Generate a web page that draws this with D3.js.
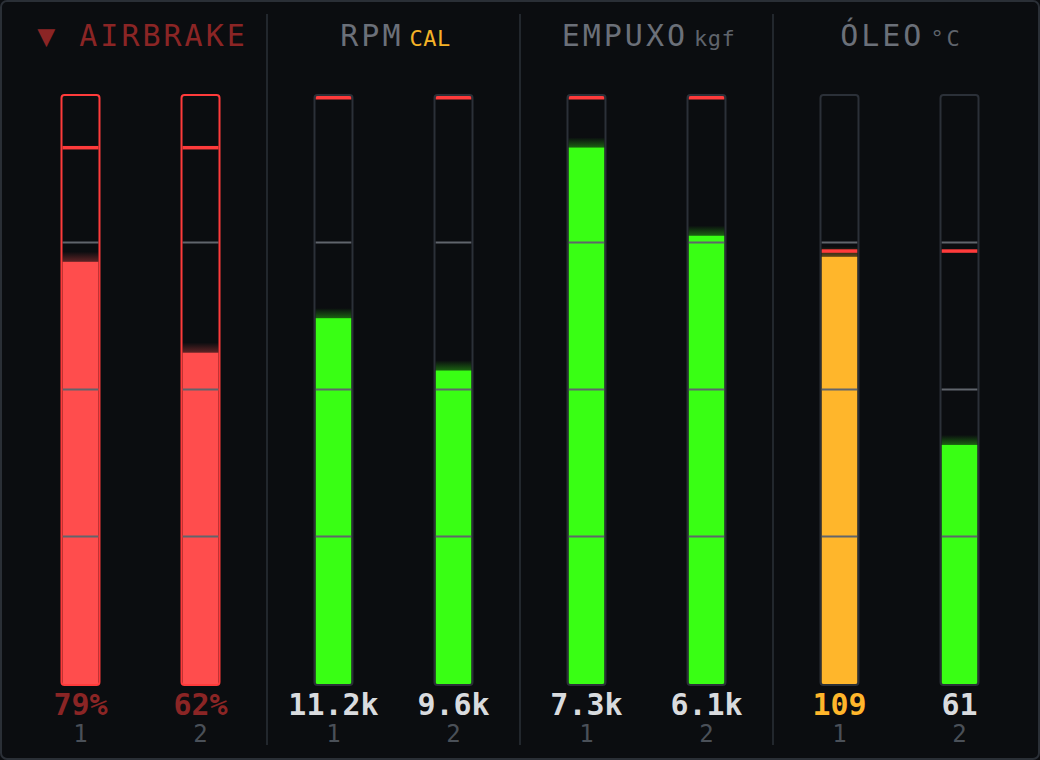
<!DOCTYPE html>
<html>
<head>
<meta charset="utf-8">
<script src="https://cdn.jsdelivr.net/npm/d3@7"></script>
<style>
  html, body { margin: 0; padding: 0; background: #0b0d10; }
  svg { display: block; }
</style>
</head>
<body>
<div id="chart"></div>
<script>
/* ── Data ── */
const groups   = ["AIRBRAKE", "RPM", "EMPUXO", "ÓLEO"];
const titles   = ["▼ AIRBRAKE", "RPM", "EMPUXO", "ÓLEO"];
const units    = ["", "CAL", "kgf", "°C"];
const maxima   = [110, 18000, 8000, 150];
const redlines = [100, 18000, 8000, 110];
const engines  = ["1", "2"];
const engine1  = [79, 11200, 7300, 109];
const engine2  = [62, 9600, 6100, 61];
const labels1  = ["79%", "11.2k", "7.3k", "109"];
const labels2  = ["62%", "9.6k", "6.1k", "61"];
const status1  = ["alert", "ok", "ok", "caution"];
const status2  = ["alert", "ok", "ok", "ok"];
const tickFracs = [0.25, 0.5, 0.75];

const W = 1040, H = 760;
const fillColor = { ok: "#39ff14", caution: "#ffb62b", alert: "#ff4d4d" };
const mono = "'DejaVu Sans Mono', 'Liberation Mono', monospace";

const svg = d3.select("#chart").append("svg")
  .attr("width", W).attr("height", H)
  .style("font-family", mono);

const defs = svg.append("defs");
Object.entries(fillColor).forEach(([k, c]) => {
  const g = defs.append("linearGradient").attr("id", "glow-" + k)
    .attr("x1", 0).attr("x2", 0).attr("y1", 0).attr("y2", 1);
  g.append("stop").attr("offset", "0%").attr("stop-color", c).attr("stop-opacity", 0);
  g.append("stop").attr("offset", "100%").attr("stop-color", c).attr("stop-opacity", 0.35);
});

/* ── Frame ── */
svg.append("rect")
  .attr("x", 1).attr("y", 1).attr("width", W - 2).attr("height", H - 2)
  .attr("rx", 6).attr("fill", "#0b0d10")
  .attr("stroke", "#2a2f36").attr("stroke-width", 2);

/* ── Scales ── */
const x = d3.scaleBand().domain(groups).range([14, 1026]).padding(0);
const xe = d3.scalePoint().domain(engines).range([0, x.bandwidth()]).padding(0.554);
const yTop = 96, yBot = 684;
const yScales = maxima.map(m => d3.scaleLinear().domain([0, m]).range([yBot, yTop]));

/* ── Dividers ── */
svg.selectAll("line.divider")
  .data(groups.slice(1))
  .enter().append("line")
  .attr("class", "divider")
  .attr("x1", d => x(d)).attr("x2", d => x(d))
  .attr("y1", 14).attr("y2", 745)
  .attr("stroke", "#22272d").attr("stroke-width", 2);

/* ── Panels ── */
groups.forEach((g, gi) => {
  const panel = svg.append("g").attr("transform", `translate(${x(g)},0)`);
  const cx0 = x.bandwidth() / 2;
  const y = yScales[gi];
  const isAir = gi === 0;

  /* header */
  const head = panel.append("text")
    .attr("x", cx0 + 2).attr("y", 46)
    .attr("text-anchor", "middle");
  head.append("tspan")
    .text(titles[gi])
    .attr("font-size", 30)
    .attr("letter-spacing", 3)
    .attr("fill", isAir ? "#8b2525" : "#6b7079");
  if (units[gi]) {
    head.append("tspan")
      .text(units[gi])
      .attr("dx", 6)
      .attr("font-size", 22)
      .attr("letter-spacing", units[gi] === "°C" ? 3 : 0.5)
      .attr("fill", units[gi] === "CAL" ? "#f5b227" : "#5f646c");
  }

  const vals = [engine1[gi], engine2[gi]];
  const labs = [labels1[gi], labels2[gi]];
  const stats = [status1[gi], status2[gi]];

  engines.forEach((e, ei) => {
    const cx = xe(e);
    const st = stats[ei];
    const v = vals[ei];
    const bar = panel.append("g");

    /* tube background */
    bar.append("rect")
      .attr("x", cx - 19).attr("y", yTop - 1)
      .attr("width", 38).attr("height", yBot - yTop + 2)
      .attr("rx", 3)
      .attr("fill", "#0b0d10");

    /* glow above fill */
    bar.append("rect")
      .attr("x", cx - 18).attr("y", y(v) - 10)
      .attr("width", 36).attr("height", 10)
      .attr("fill", `url(#glow-${st})`);

    /* fill */
    bar.append("rect")
      .attr("x", cx - 18).attr("y", y(v))
      .attr("width", 36).attr("height", yBot - y(v))
      .attr("fill", fillColor[st]);

    /* ticks */
    bar.selectAll("line.tick")
      .data(tickFracs)
      .enter().append("line")
      .attr("x1", cx - 18).attr("x2", cx + 18)
      .attr("y1", d => Math.round(y(maxima[gi] * d)) - 0.5)
      .attr("y2", d => Math.round(y(maxima[gi] * d)) - 0.5)
      .attr("stroke", "#60656c").attr("stroke-width", 2);

    /* redline */
    const ry = Math.max(yTop, y(redlines[gi]) - 3.5);
    bar.append("rect")
      .attr("x", cx - 18).attr("y", ry)
      .attr("width", 36).attr("height", 3.5)
      .attr("fill", "#ff3b3b");

    /* tube outline */
    bar.append("rect")
      .attr("x", cx - 19).attr("y", yTop - 1)
      .attr("width", 38).attr("height", yBot - yTop + 2)
      .attr("rx", 3)
      .attr("fill", "none")
      .attr("stroke", isAir ? "#ff3b3b" : "#2b3038")
      .attr("stroke-width", 2);

    /* value */
    bar.append("text")
      .attr("x", cx).attr("y", 715)
      .attr("text-anchor", "middle")
      .attr("font-size", 30)
      .attr("font-weight", "bold")
      .attr("fill", isAir ? "#8b2525" : (st === "caution" ? "#ffb62b" : "#d9dbde"))
      .text(labs[ei]);

    /* engine index */
    bar.append("text")
      .attr("x", cx).attr("y", 742)
      .attr("text-anchor", "middle")
      .attr("font-size", 24)
      .attr("fill", "#4a5058")
      .text(e);
  });
});
</script>
</body>
</html>
